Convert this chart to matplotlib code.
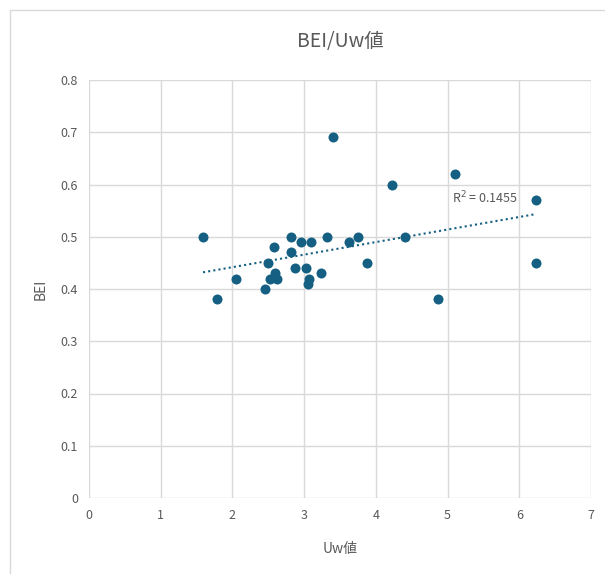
import numpy as np
import matplotlib.pyplot as plt
from matplotlib.patches import Rectangle

plt.rcParams['font.family'] = ['Noto Sans CJK JP', 'DejaVu Sans']

# data
uw = [1.59, 1.79, 2.05, 2.46, 2.50, 2.52, 2.58, 2.60, 2.62, 2.81, 2.81, 2.87,
      2.96, 3.02, 3.07, 3.05, 3.10, 3.23, 3.32, 3.40, 3.63, 3.75, 3.87,
      4.23, 4.40, 4.87, 5.10, 6.24, 6.24]
bei = [0.50, 0.38, 0.42, 0.40, 0.45, 0.42, 0.48, 0.43, 0.42, 0.50, 0.47, 0.44,
       0.49, 0.44, 0.42, 0.41, 0.49, 0.43, 0.50, 0.69, 0.49, 0.50, 0.45,
       0.60, 0.50, 0.38, 0.62, 0.57, 0.45]
r2_label = "R$^2$ = 0.1455"

x_ticks = [0, 1, 2, 3, 4, 5, 6, 7]
y_ticks = [0, 0.1, 0.2, 0.3, 0.4, 0.5, 0.6, 0.7, 0.8]
y_labels = ["0", "0.1", "0.2", "0.3", "0.4", "0.5", "0.6", "0.7", "0.8"]

blue = '#156082'
gray = '#595959'

fig = plt.figure(figsize=(6.05, 5.74), dpi=100)
fig.patches.append(Rectangle((9.5 / 605, -0.1), 1.2, (574 - 9.5) / 574 + 0.1,
                             transform=fig.transFigure, fill=False,
                             edgecolor='#D9D9D9', linewidth=1))
ax = fig.add_axes([89 / 605, 76 / 574, 502 / 605, 418 / 574])

ax.scatter(uw, bei, s=52, color=blue, zorder=3, linewidths=0)

# linear trendline
k, b = np.polyfit(uw, bei, 1)
xs = np.array([min(uw), max(uw)])
ax.plot(xs, k * xs + b, color=blue, linestyle=(0, (1, 1.5)), linewidth=1.5, zorder=2)
ax.text(5.06, 0.575, r2_label, color=gray, fontsize=9, va='center', ha='left')

ax.set_xlim(0, 7)
ax.set_ylim(0, 0.8)
ax.set_xticks(x_ticks)
ax.set_yticks(y_ticks)
ax.set_yticklabels(y_labels)
ax.grid(True, color='#D9D9D9', linewidth=1)
ax.set_axisbelow(True)
for s in ax.spines.values():
    s.set_visible(False)
ax.tick_params(length=0, colors=gray, labelsize=9, pad=8)

ax.set_title("BEI/Uw値", color=gray, fontsize=14, pad=24)
ax.set_xlabel("Uw値", color=gray, fontsize=10, labelpad=14)
ax.set_ylabel("BEI", color=gray, fontsize=10, labelpad=9)

fig.savefig("out.png", dpi=100)
